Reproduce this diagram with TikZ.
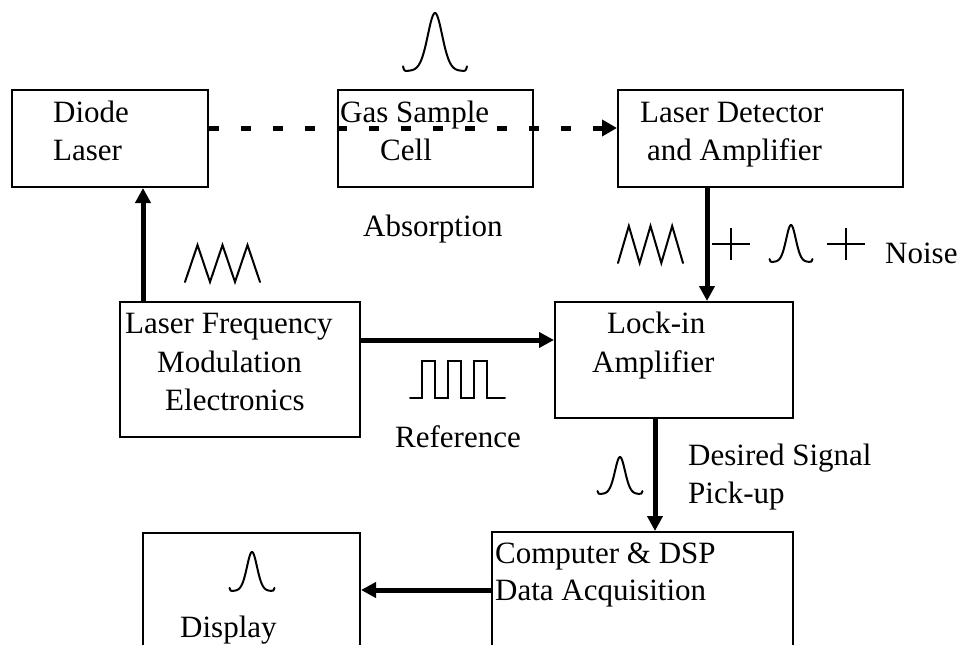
\documentclass[tikz,border=0pt]{standalone}
\usepackage{fontspec}
\setmainfont{Liberation Serif}
\usetikzlibrary{arrows.meta,fit}
\tikzset{
  box/.style={draw, line width=2pt, inner sep=0pt},
  lbl/.style={font=\fontsize{31}{37}\selectfont, inner sep=0pt, anchor=base west},
  arr/.style={line width=5pt, -{Triangle[length=15pt,width=15pt]}},
  dasharr/.style={line width=5pt, dash pattern=on 10pt off 22pt, -{Triangle[length=15pt,width=16pt]}},
  wave/.style={line width=2pt, line join=round, line cap=round},
}
\newcommand\mypeak[4]{%
  \draw[wave] ({#1-0.5*#3},{#2-0.08*#4}) .. controls ({#1-0.48*#3},{#2}) .. ({#1-0.42*#3},{#2})
    -- plot[domain=-0.42:0.42,samples=80] ({#1+\x*#3},{#2-#4*exp(-0.5*(\x/0.11)*(\x/0.11)*(1-0.25*abs(\x)/0.42))})
    .. controls ({#1+0.48*#3},{#2}) .. ({#1+0.5*#3},{#2-0.08*#4});}
\newcommand\mytri[4]{%
  \draw[wave, line join=miter] (#1,{#2+#4}) -- ({#1+#3/6},#2) -- ({#1+2*#3/6},{#2+#4})
    -- ({#1+3*#3/6},#2) -- ({#1+4*#3/6},{#2+#4}) -- ({#1+5*#3/6},#2) -- ({#1+#3},{#2+#4});}
\begin{document}
\begin{tikzpicture}[x=1pt,y=-1pt]
\useasboundingbox (0,0) rectangle (962,645);
\clip (0,0) rectangle (962,645);
% boxes
\node[box, fit={(12,90)(208,187)}] (diode) {};
\node[box, fit={(338,90)(533,187)}] (gas) {};
\node[box, fit={(618,90)(903,187)}] (det) {};
\node[box, fit={(120,302)(360,437)}] (lfm) {};
\node[box, fit={(555,302)(793,418)}] (lock) {};
\node[box, fit={(492,532)(793,700)}] (comp) {};
\node[box, fit={(143,533)(360,700)}] (disp) {};
% guide coordinates
\coordinate (ax1) at (143,0);
\coordinate (ay1) at (0,128);
\coordinate (ax2) at (707,0);
\coordinate (ay2) at (0,340);
\coordinate (ax3) at (655,0);
\coordinate (ay3) at (0,590);
% connectors
\draw[arr] (lfm.north -| ax1) -- (diode.south -| ax1);
\draw[dasharr] (diode.east |- ay1) -- (det.west |- ay1);
\draw[arr] (det.south -| ax2) -- (lock.north -| ax2);
\draw[arr] (lfm.east |- ay2) -- (lock.west |- ay2);
\draw[arr] (lock.south -| ax3) -- (comp.north -| ax3);
\draw[arr] (comp.west |- ay3) -- (disp.east |- ay3);
% labels
\node[lbl] (t1) at (53,122) {Diode};
\node[lbl] (t2) at (53,160) {Laser};
\node[lbl] (t3) at (340,122) {Gas Sample};
\node[lbl] (t4) at (380,160) {Cell};
\node[lbl] (t5) at (640,122) {Laser Detector};
\node[lbl] (t6) at (647,160) {and Amplifier};
\node[lbl] (t7) at (363,236) {Absorption};
\node[lbl] (t8) at (125,333) {Laser Frequency};
\node[lbl] (t9) at (157,372) {Modulation};
\node[lbl] (t10) at (165,410) {Electronics};
\node[lbl] (t11) at (607,333) {Lock-in};
\node[lbl] (t12) at (592,372) {Amplifier};
\node[lbl] (t13) at (395,447) {Reference};
\node[lbl] (t14) at (885,263) {Noise};
\node[lbl] (t15) at (688,465) {Desired Signal};
\node[lbl] (t16) at (688,503) {Pick-up};
\node[lbl] (t17) at (495,563) {Computer \& DSP};
\node[lbl] (t18) at (495,600) {Data Acquisition};
\node[lbl] (t19) at (180,637) {Display};
% signal sketches
\mypeak{435}{71}{64}{58}
\mypeak{791}{262}{43}{37}
\mypeak{620}{494}{45}{37}
\mypeak{252}{591}{45}{39}
\mytri{185}{245}{75}{37}
\mytri{618}{226}{65}{37}
\draw[wave, line cap=butt] (712,244) -- (750,244) (731,228) -- (731,260);
\draw[wave, line cap=butt] (827,244) -- (865,244) (846,228) -- (846,260);
\draw[wave, line join=miter] (410,398) -- (422,398) -- (422,361) -- (435,361) -- (435,398)
  -- (448,398) -- (448,361) -- (461,361) -- (461,398) -- (474,398) -- (474,361)
  -- (487,361) -- (487,398) -- (505,398);
\end{tikzpicture}
\end{document}
